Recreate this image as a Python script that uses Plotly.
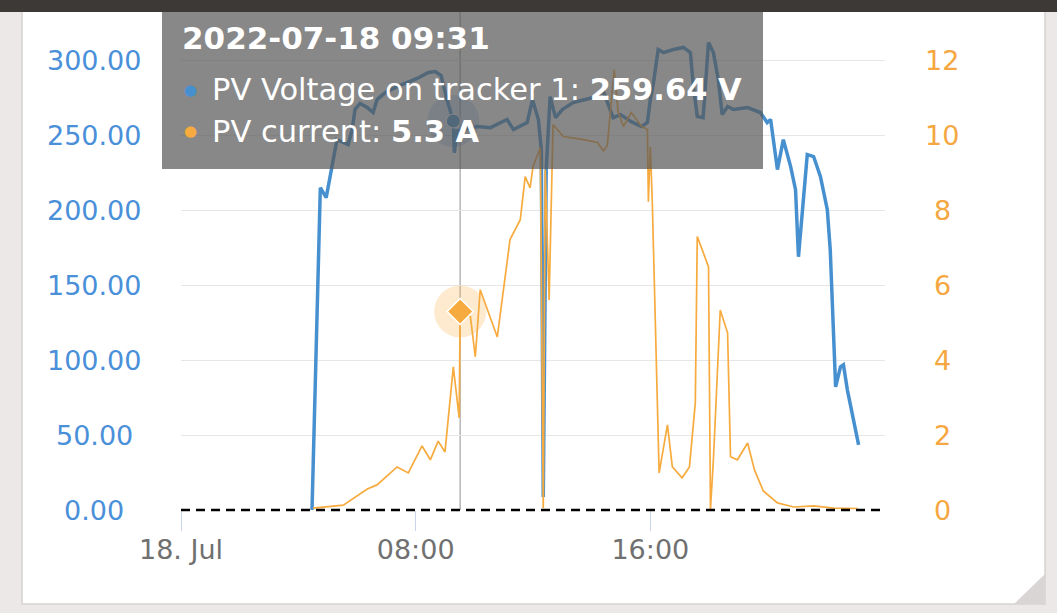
import plotly.graph_objects as go

DAY = "2022-07-18"

# ---- data ----
volt_time = ["04:28","04:45","04:57","05:05","05:11","05:19","05:42","05:50","05:56","06:06",
             "06:21","06:33","06:41","06:58","07:22","08:03","08:26","08:40","08:52","09:04",
             "09:17","09:19","09:25","10:06","10:33","11:07","11:20","11:48","11:59","12:11",
             "12:17","12:21","12:27","12:35","12:46","13:00","13:22","14:03","14:24","14:44",
             "14:59","15:21","15:42","15:54","16:00","16:06","16:16","16:27","16:47","17:08",
             "17:22","17:28","17:36","17:48","17:59","18:09","18:19","18:27","18:38","18:50",
             "19:19","19:45","19:59","20:06","20:20","20:32","20:47","20:57","21:03","21:21",
             "21:34","21:48","22:02","22:08","22:19","22:29","22:35","22:43","23:06"]
volt_vals = [0,215.1,208.5,222.5,235.9,247.2,243.9,253.9,267.3,271.3,
             268.6,265.3,273.9,278.6,282.6,288.0,292.0,292.6,290.0,273.9,
             259.64,238.5,253.2,255.9,255.2,260.6,253.9,258.6,273.9,260.6,
             240.5,8.7,227.2,275.9,261.9,267.3,271.9,275.3,279.3,261.9,
             263.9,259.2,255.9,258.6,273.9,284.0,307.3,305.3,307.3,308.7,
             305.3,282.6,262.6,261.9,312.0,305.3,287.3,263.9,269.3,267.3,
             268.6,265.3,258.6,260.6,227.2,247.2,229.2,213.8,169.0,237.2,
             235.9,222.5,200.4,173.7,82.2,95.5,96.9,80.2,43.4]

cur_time = ["04:30","05:32","06:21","06:41","07:22","07:45","08:13","08:30","08:46","09:00",
            "09:17","09:29","09:31","09:52","10:02","10:12","10:47","11:13","11:34","11:44",
            "11:54","12:00","12:15","12:21","12:25","12:33","12:41","13:02","13:43","14:12",
            "14:24","14:32","14:46","14:54","15:05","15:21","15:42","15:54","15:56","16:00",
            "16:04","16:18","16:35","16:45","17:05","17:20","17:32","17:36","17:46","17:59",
            "18:03","18:09","18:23","18:38","18:44","18:58","19:19","19:33","19:51","20:20",
            "20:53","21:34","22:15","23:04"]
cur_vals = [0.05,0.13,0.56,0.67,1.15,0.99,1.71,1.34,1.84,1.55,
            3.82,2.46,5.3,5.16,4.09,5.88,4.62,7.22,7.75,8.90,
            8.60,9.17,9.67,0.05,9.09,5.61,10.29,9.97,9.89,9.81,
            9.59,9.73,11.76,10.64,10.24,10.61,10.24,10.16,8.23,9.70,
            8.23,0.99,2.27,1.15,0.86,1.15,2.86,7.30,6.95,6.49,
            0.02,1.34,5.34,4.73,1.42,1.34,1.79,1.07,0.51,0.19,
            0.08,0.11,0.05,0.04]

left_ticks = [0, 50, 100, 150, 200, 250, 300]
left_labels = ["0.00", "50.00", "100.00", "150.00", "200.00", "250.00", "300.00"]
right_ticks = [0, 2, 4, 6, 8, 10, 12]
right_labels = ["0", "2", "4", "6", "8", "10", "12"]
x_ticks = ["00:00", "08:00", "16:00"]
x_labels = ["18. Jul", "08:00", "16:00"]

hover_title = "2022-07-18 09:31"
hover_cur_time = "09:31"
hover_volt_time = "09:17"
volt_name = "PV Voltage on tracker 1"
cur_name = "PV current"

# ---- styling ----
BLUE = "#4790d0"
ORANGE = "#f7ab3e"
FONT = "DejaVu Sans"
W, H = 1057, 613
ML, MR, MT, MB = 181, 172, 12, 103
PW, PH = W - ML - MR, H - MT - MB


def px(x):
    return (x - ML) / PW


def py(y):
    return (H - MB - y) / PH


def ts(t):
    return f"{DAY} {t}"


fig = go.Figure()
fig.add_trace(go.Scatter(x=[ts(t) for t in volt_time], y=volt_vals, mode="lines",
                         line=dict(color=BLUE, width=3.5), name=volt_name, yaxis="y"))
fig.add_trace(go.Scatter(x=[ts(t) for t in cur_time], y=cur_vals, mode="lines",
                         line=dict(color=ORANGE, width=1.7), name=cur_name, yaxis="y2"))

# hovered points
hv = volt_vals[volt_time.index(hover_volt_time)]
hc = cur_vals[cur_time.index(hover_cur_time)]
fig.add_trace(go.Scatter(x=[ts(hover_volt_time)], y=[hv], mode="markers", yaxis="y",
                         marker=dict(size=52, color="rgba(71,144,208,0.25)", line=dict(width=0))))
fig.add_trace(go.Scatter(x=[ts(hover_volt_time)], y=[hv], mode="markers", yaxis="y",
                         marker=dict(size=14, color=BLUE, line=dict(width=1, color="white"))))
fig.add_trace(go.Scatter(x=[ts(hover_cur_time)], y=[hc], mode="markers", yaxis="y2",
                         marker=dict(size=52, color="rgba(247,171,62,0.25)", line=dict(width=0))))
fig.add_trace(go.Scatter(x=[ts(hover_cur_time)], y=[hc], mode="markers", yaxis="y2",
                         marker=dict(size=20, symbol="diamond", color=ORANGE,
                                     line=dict(width=1.5, color="white"))))

shapes = [
    # card
    dict(type="rect", xref="paper", yref="paper", x0=px(22), x1=px(1045), y0=py(604), y1=py(-5),
         fillcolor="white", line=dict(color="#d6d3d2", width=1.5), layer="below"),
    # crosshair
    dict(type="line", xref="x", yref="paper", x0=ts(hover_cur_time), x1=ts(hover_cur_time),
         y0=0, y1=1, line=dict(color="#b5b5b5", width=1.5), layer="below"),
    # zero plot line (paper refs so it is not clipped at the plot edge)
    dict(type="line", xref="paper", yref="paper", x0=0, x1=1, y0=0, y1=0,
         line=dict(color="black", width=2.5, dash="9px,6px"), layer="above"),
    # tooltip box
    dict(type="rect", xref="paper", yref="paper", x0=px(162), x1=px(763), y0=py(169), y1=py(10),
         fillcolor="rgba(85,85,85,0.7)", line=dict(width=0), layer="above"),
    # dark top bar
    dict(type="rect", xref="paper", yref="paper", x0=px(-10), x1=px(W + 10), y0=py(12), y1=py(-10),
         fillcolor="#3d3937", line=dict(width=0), layer="above"),
    # resize corner
    dict(type="path", xref="paper", yref="paper",
         path=f"M {px(1045)} {py(574)} L {px(1045)} {py(604)} L {px(1014)} {py(604)} Z",
         fillcolor="#d8d5d4", line=dict(width=0), layer="above"),
]

ann = []
for v, t in zip(left_ticks, left_labels):
    ann.append(dict(x=px(94), xref="paper", y=v, yref="y", text=t, showarrow=False,
                    xanchor="center", yanchor="middle",
                    font=dict(family=FONT, size=27, color="#4a90d9")))
for v, t in zip(right_ticks, right_labels):
    ann.append(dict(x=px(942), xref="paper", y=v, yref="y2", text=t, showarrow=False,
                    xanchor="center", yanchor="middle",
                    font=dict(family=FONT, size=27, color="#f5a742")))

ann.append(dict(x=px(180), xref="paper", y=py(38), yref="paper", text=f"<b>{hover_title}</b>",
                showarrow=False, xanchor="left", yanchor="middle",
                font=dict(family=FONT, size=31, color="white")))
ann.append(dict(x=px(190), xref="paper", y=py(90), yref="paper", text="●", showarrow=False,
                xanchor="center", yanchor="middle", font=dict(family=FONT, size=15, color=BLUE)))
ann.append(dict(x=px(190), xref="paper", y=py(131), yref="paper", text="●", showarrow=False,
                xanchor="center", yanchor="middle", font=dict(family=FONT, size=15, color=ORANGE)))
ann.append(dict(x=px(210), xref="paper", y=py(90), yref="paper",
                text=f"{volt_name}: <b>{hv:.2f} V</b>", showarrow=False,
                xanchor="left", yanchor="middle", font=dict(family=FONT, size=30.5, color="white")))
ann.append(dict(x=px(210), xref="paper", y=py(131), yref="paper",
                text=f"{cur_name}: <b>{hc} A</b>", showarrow=False,
                xanchor="left", yanchor="middle", font=dict(family=FONT, size=30.5, color="white")))

fig.update_layout(
    width=W, height=H,
    margin=dict(l=ML, r=MR, t=MT, b=MB, pad=0),
    paper_bgcolor="#ebe8e7", plot_bgcolor="white",
    showlegend=False,
    font=dict(family=FONT),
    xaxis=dict(type="date", range=[ts("00:00"), "2022-07-19 00:00"],
               tickvals=[ts(t) for t in x_ticks], ticktext=x_labels,
               ticks="outside", ticklen=20, tickcolor="#ccd6eb", tickwidth=1,
               ticklabelstandoff=-4,
               showgrid=False, zeroline=False, showline=False,
               tickfont=dict(family=FONT, size=27, color="#707070")),
    yaxis=dict(range=[0, PH / 1.4983], tickvals=left_ticks, showticklabels=False,
               showgrid=True, gridcolor="#e6e6e6", gridwidth=1, zeroline=False, ticks=""),
    yaxis2=dict(range=[0, PH / 1.4983 / 25], overlaying="y", side="right",
                showticklabels=False, showgrid=False, zeroline=False, ticks=""),
    shapes=shapes, annotations=ann,
    hovermode=False,
)

fig.write_html("out.html", config={"displayModeBar": False},
               post_script="document.body.style.margin='0';document.body.style.overflow='hidden';")
